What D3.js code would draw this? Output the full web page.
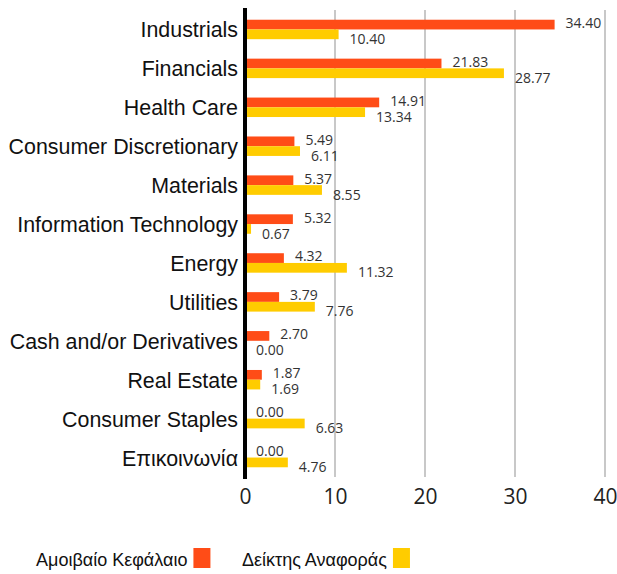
<!DOCTYPE html>
<html>
<head>
<meta charset="utf-8">
<script src="https://cdn.jsdelivr.net/npm/d3@7"></script>
<style>
  body { margin: 0; background: #fff; }
  .cat { font-family: "Liberation Sans", Arial, sans-serif; font-size: 21.4px; fill: #111; }
  .val { font-family: "Open Sans", sans-serif; font-size: 14px; fill: #333; }
  .tick text { font-family: "Open Sans", sans-serif; font-size: 21px; fill: #222; }
  .legend { font-family: "Liberation Sans", Arial, sans-serif; font-size: 18px; fill: #111; }
</style>
</head>
<body>
<div id="chart"></div>
<script>
var categories = ["Industrials", "Financials", "Health Care", "Consumer Discretionary",
  "Materials", "Information Technology", "Energy", "Utilities",
  "Cash and/or Derivatives", "Real Estate", "Consumer Staples", "Επικοινωνία"];
var fundValues = [34.40, 21.83, 14.91, 5.49, 5.37, 5.32, 4.32, 3.79, 2.70, 1.87, 0.00, 0.00];
var indexValues = [10.40, 28.77, 13.34, 6.11, 8.55, 0.67, 11.32, 7.76, 0.00, 1.69, 6.63, 4.76];
var seriesNames = ["Αμοιβαίο Κεφάλαιο", "Δείκτης Αναφοράς"];
var tickValues = [0, 10, 20, 30, 40];

var svgWidth = 617;
var svgHeight = 574;
var colors = ["#ff4c17", "#ffcc00"];

var svg = d3.select("#chart")
  .append("svg")
  .attr("width", svgWidth)
  .attr("height", svgHeight);

var x = d3.scaleLinear().domain([0, 40]).range([245, 605]);
var y = d3.scaleBand().domain(categories).range([10, 477])
  .paddingInner(0.5).paddingOuter(0.25);
var ySub = d3.scaleBand().domain([0, 1]).range([0, y.bandwidth()]);

// grid lines
svg.append("g").selectAll("line")
  .data(tickValues.slice(1))
  .enter().append("line")
  .attr("x1", d => x(d)).attr("x2", d => x(d))
  .attr("y1", 10).attr("y2", 477)
  .attr("stroke", "#c8c8c8")
  .attr("stroke-width", 2);

var rows = categories.map(function(c, i) {
  return { cat: c, vals: [fundValues[i], indexValues[i]] };
});

var group = svg.append("g").selectAll("g")
  .data(rows)
  .enter().append("g")
  .attr("transform", d => `translate(0, ${y(d.cat)})`);

group.selectAll("rect")
  .data(d => d.vals)
  .enter().append("rect")
  .attr("x", x(0))
  .attr("y", (d, i) => ySub(i))
  .attr("width", d => x(d) - x(0))
  .attr("height", ySub.bandwidth())
  .attr("fill", (d, i) => colors[i]);

var mid = y.bandwidth() / 2;
group.selectAll("text.val")
  .data(d => d.vals)
  .enter().append("text")
  .attr("class", "val")
  .attr("x", d => x(d) + 11)
  .attr("y", (d, i) => i === 0 ? mid - 1.5 : mid + 14.5)
  .text(d => d.toFixed(2));

// category labels
svg.append("g").selectAll("text")
  .data(categories)
  .enter().append("text")
  .attr("class", "cat")
  .attr("x", 238)
  .attr("y", d => y(d) + mid + 8)
  .attr("text-anchor", "end")
  .text(d => d);

// zero axis line
svg.append("line")
  .attr("x1", x(0)).attr("x2", x(0))
  .attr("y1", 8).attr("y2", 479)
  .attr("stroke", "#000")
  .attr("stroke-width", 4);

// x axis labels
var xAxis = svg.append("g")
  .attr("transform", "translate(0, 482)")
  .call(d3.axisBottom(x).tickValues(tickValues).tickSize(0).tickPadding(0));
xAxis.select(".domain").remove();
xAxis.selectAll(".tick text").attr("dy", "0").attr("y", 22);

// legend
var legendX = [36, 242];
var legend = svg.append("g").selectAll("g")
  .data(seriesNames)
  .enter().append("g");
legend.append("text")
  .attr("class", "legend")
  .attr("x", (d, i) => legendX[i])
  .attr("y", 566)
  .text(d => d);
legend.append("rect")
  .attr("x", function(d, i) {
    return legendX[i] + this.parentNode.querySelector("text").getComputedTextLength() + 6;
  })
  .attr("y", 548)
  .attr("width", 17)
  .attr("height", 20)
  .attr("fill", (d, i) => colors[i]);
</script>
</body>
</html>
